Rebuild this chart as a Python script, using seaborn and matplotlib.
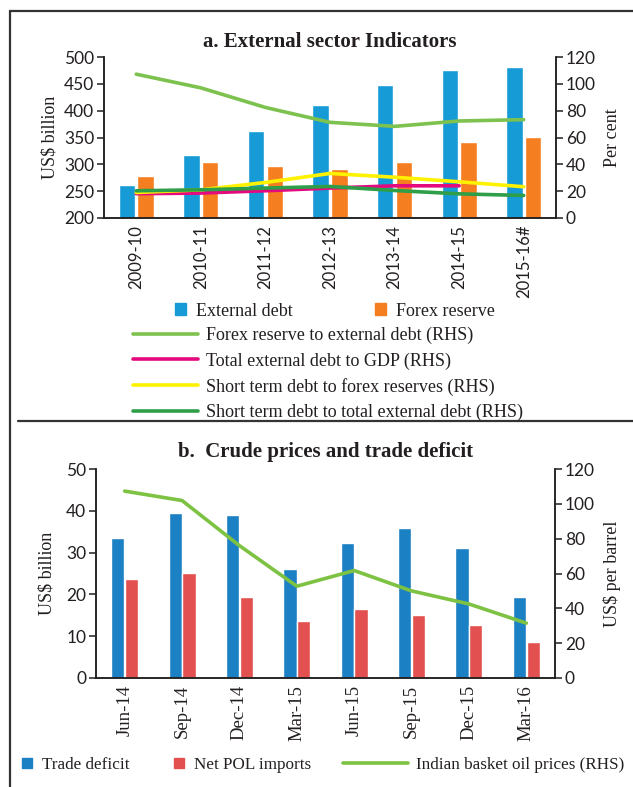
import numpy as np
import pandas as pd
import matplotlib
matplotlib.use("Agg")
import matplotlib.pyplot as plt
import seaborn as sns
from matplotlib.lines import Line2D
from matplotlib.patches import Patch

#==================
#Data
#==================
years = ["2009-10", "2010-11", "2011-12", "2012-13", "2013-14", "2014-15", "2015-16#"]
external_debt = [262, 317, 362, 410, 447, 475, 481]
forex_reserve = [279, 305, 296, 292, 305, 342, 351]
forex_to_debt = [107.2, 97.0, 82.4, 71.3, 68.3, 72.3, 73.3]
debt_to_gdp = [18.1, 18.6, 20.3, 22.3, 24.0, 24.0, np.nan]
st_to_forex = [19.0, 21.0, 26.5, 33.2, 30.4, 27.0, 23.3]
st_to_debt = [20.3, 21.0, 22.3, 23.5, 20.5, 18.0, 16.8]

quarters = ["Jun-14", "Sep-14", "Dec-14", "Mar-15", "Jun-15", "Sep-15", "Dec-15", "Mar-16"]
trade_deficit = [33.4, 39.4, 39.0, 26.0, 32.2, 35.8, 31.2, 19.3]
net_pol = [23.7, 25.2, 19.3, 13.6, 16.6, 15.0, 12.7, 8.7]
oil_price = [107.3, 101.9, 76.0, 52.7, 61.7, 50.0, 42.5, 31.5]

#==================
#Style
#==================
sns.set_style("white")
SERIF = ["Liberation Serif", "DejaVu Serif"]
SANS = ["Lato", "DejaVu Sans"]
plt.rcParams["font.family"] = SERIF
INK = "#231f20"
W, H = 633, 787

def fx(px):
    return px / W

def fy(px):
    return 1 - px / H

def style_axes(ax_l, ax_r, n, xfont, xsize):
    for ax in (ax_l, ax_r):
        ax.spines["top"].set_visible(False)
        for side in ("left", "right", "bottom"):
            ax.spines[side].set_color(INK)
            ax.spines[side].set_linewidth(1.1)
        ax.tick_params(axis="y", colors=INK, labelsize=12.5, length=5, width=1.1,
                       direction="out", pad=2)
        for lab in ax.get_yticklabels():
            lab.set_family(SANS)
    ax_l.set_xlim(-0.5, n - 0.5)
    ax_l.set_xticks(np.arange(-0.5, n), minor=True)
    ax_l.tick_params(axis="x", which="major", length=0, pad=5, labelsize=xsize,
                     labelcolor=INK, rotation=90)
    ax_l.tick_params(axis="x", which="minor", length=5, width=1.1, color=INK)
    for lab in ax_l.get_xticklabels():
        lab.set_family(xfont)
    ax_l.set_xlabel("")

fig = plt.figure(figsize=(W / 100, H / 100), dpi=100)

#==================
#Panel a
#==================
df_a = pd.DataFrame({
    "year": years * 2,
    "value": external_debt + forex_reserve,
    "series": ["External debt"] * len(years) + ["Forex reserve"] * len(years),
})
colors_a = {"External debt": "#179bd7", "Forex reserve": "#f47e20"}

ax1 = fig.add_axes([fx(104), fy(218), fx(556) - fx(104), fy(57) - fy(218)])
sns.barplot(data=df_a, x="year", y="value", hue="series", palette=colors_a,
            width=0.58, gap=0.12, saturation=1, legend=False, ax=ax1)
ax1.set_ylim(200, 500)
ax1.set_yticks(range(200, 501, 50))
ax1.set_ylabel("US$ billion", fontsize=13, color=INK, labelpad=4)

ax2 = ax1.twinx()
pos_a = np.arange(len(years))
line_a = [
    (forex_to_debt, "#7dc24f", "Forex reserve to external debt (RHS)"),
    (debt_to_gdp, "#e5097f", "Total external debt to GDP (RHS)"),
    (st_to_forex, "#fff200", "Short term debt to forex reserves (RHS)"),
    (st_to_debt, "#2e9e48", "Short term debt to total external debt (RHS)"),
]
for vals, col, lab in line_a:
    sns.lineplot(x=pos_a, y=vals, color=col, linewidth=2.6, ax=ax2)
ax2.set_ylim(0, 120)
ax2.set_yticks(range(0, 121, 20))
ax2.set_ylabel("Per cent", fontsize=13, color=INK, labelpad=6)
style_axes(ax1, ax2, len(years), SANS, 12)
ax1.set_title("a. External sector Indicators", fontsize=15, fontweight="bold",
              color=INK, pad=7)

#==================
#Panel b
#==================
df_b = pd.DataFrame({
    "quarter": quarters * 2,
    "value": trade_deficit + net_pol,
    "series": ["Trade deficit"] * len(quarters) + ["Net POL imports"] * len(quarters),
})
colors_b = {"Trade deficit": "#1c80c4", "Net POL imports": "#e2514f"}

ax3 = fig.add_axes([fx(96), fy(678), fx(555) - fx(96), fy(469) - fy(678)])
sns.barplot(data=df_b, x="quarter", y="value", hue="series", palette=colors_b,
            width=0.48, gap=0.04, saturation=1, legend=False, ax=ax3)
ax3.set_ylim(0, 50)
ax3.set_yticks(range(0, 51, 10))
ax3.set_ylabel("US$ billion", fontsize=13, color=INK, labelpad=8)

ax4 = ax3.twinx()
sns.lineplot(x=np.arange(len(quarters)), y=oil_price, color="#7dc242",
             linewidth=2.6, ax=ax4)
ax4.set_ylim(0, 120)
ax4.set_yticks(range(0, 121, 20))
ax4.set_ylabel("US$ per barrel", fontsize=13, color=INK, labelpad=6)
style_axes(ax3, ax4, len(quarters), SERIF, 13.5)
ax3.set_title("b.  Crude prices and trade deficit", fontsize=15,
              fontweight="bold", color=INK, pad=9)

#==================
#Legends
#==================
def add_legend(handles, x, y, **kw):
    opts = dict(loc="center left", bbox_to_anchor=(fx(x), fy(y)), frameon=False,
                borderpad=0, borderaxespad=0, fontsize=13, labelcolor=INK)
    opts.update(kw)
    fig.legend(handles=handles, **opts)

sq = dict(handlelength=0.6, handleheight=0.6, handletextpad=0.55)
add_legend([Patch(color=colors_a["External debt"], label="External debt")], 175, 311, **sq)
add_legend([Patch(color=colors_a["Forex reserve"], label="Forex reserve")], 375, 311, **sq)
add_legend([Line2D([], [], color=c, lw=2.6, label=l) for _, c, l in line_a],
           133, 374, handlelength=3.6, handletextpad=0.45, labelspacing=0.45)

add_legend([Patch(color=colors_b["Trade deficit"], label="Trade deficit")], 22, 765,
           fontsize=12.3, **sq)
add_legend([Patch(color=colors_b["Net POL imports"], label="Net POL imports")], 174, 765,
           fontsize=12.3, **sq)
add_legend([Line2D([], [], color="#7dc242", lw=2.6, label="Indian basket oil prices (RHS)")],
           343, 765, fontsize=12.3, handlelength=3.8, handletextpad=0.45)

#==================
#Frame
#==================
frame = dict(color="#333333", linewidth=1.6, transform=fig.transFigure)
fig.add_artist(Line2D([fx(10), 1], [fy(11), fy(11)], **frame))
fig.add_artist(Line2D([fx(10), fx(10)], [fy(11), 0], **frame))
fig.add_artist(Line2D([fx(18), 1], [fy(421), fy(421)], **frame))

fig.savefig("out.png", dpi=100)
